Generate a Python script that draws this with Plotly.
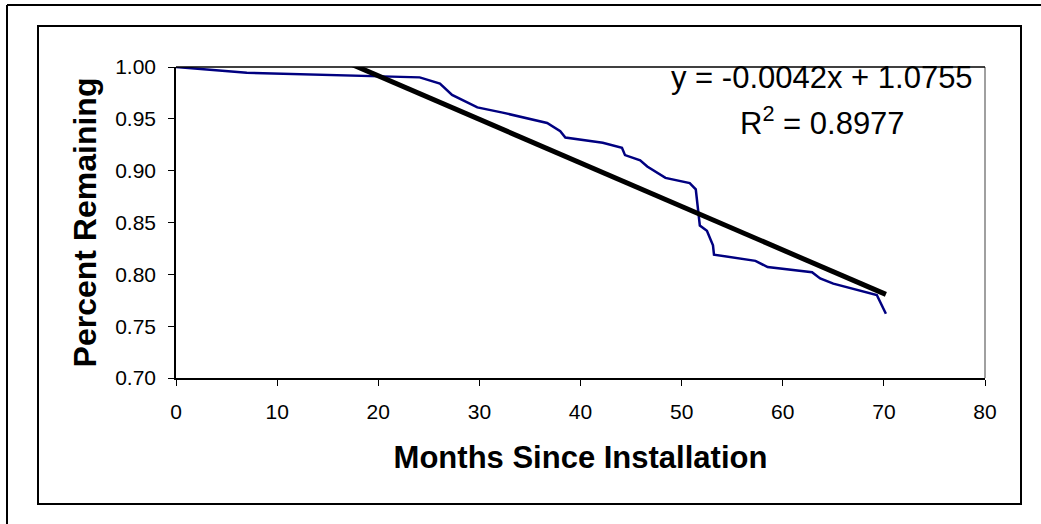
import plotly.graph_objects as go

# Data
months = [0, 7.0, 24.1, 26.1, 27.3, 28.1, 29.8, 32.3, 36.7, 38.0, 38.5, 42.2, 44.1, 44.4,
          45.9, 46.6, 48.4, 50.8, 51.4, 51.8, 52.5, 53.1, 53.2, 57.3, 58.5, 62.9, 63.7,
          65.0, 68.9, 69.3, 70.2]
remaining = [1.000, 0.9945, 0.990, 0.984, 0.973, 0.969, 0.961, 0.956, 0.946, 0.938, 0.932,
             0.927, 0.922, 0.915, 0.910, 0.904, 0.893, 0.888, 0.882, 0.847, 0.842, 0.828,
             0.819, 0.813, 0.807, 0.802, 0.796, 0.791, 0.781, 0.780, 0.762]

trend_slope = -0.0042
trend_intercept = 1.0755
r_squared = 0.8977

x_ticks = [0, 10, 20, 30, 40, 50, 60, 70, 80]
y_ticks = [0.70, 0.75, 0.80, 0.85, 0.90, 0.95, 1.00]

trend_x = [min(months), max(months)]
trend_y = [trend_slope * v + trend_intercept for v in trend_x]

FONT = "Arial, 'Liberation Sans', sans-serif"
W, H = 1041, 524
L, R, T, B = 176, 56, 67, 146
PW, PH = W - L - R, H - T - B


def px(xp):
    return (xp - L) / PW


def py(yp):
    return (H - B - yp) / PH


fig = go.Figure()
fig.add_trace(go.Scatter(x=months, y=remaining, mode="lines",
                         line=dict(color="#000080", width=2.5), showlegend=False))
fig.add_trace(go.Scatter(x=trend_x, y=trend_y, mode="lines",
                         line=dict(color="#000000", width=5), showlegend=False))

fig.update_layout(
    width=W, height=H,
    margin=dict(l=L, r=R, t=T, b=B),
    paper_bgcolor="white", plot_bgcolor="white",
    font=dict(family=FONT, color="black"),
    xaxis=dict(range=[0, 80], tickvals=x_ticks, ticktext=[str(v) for v in x_ticks],
               showgrid=False, zeroline=False, showline=True, linecolor="black", linewidth=1.5,
               ticks="outside", ticklen=6, tickcolor="black", tickfont=dict(size=21),
               ticklabelstandoff=8,
               title=dict(text="<b>Months Since Installation</b>", font=dict(size=31), standoff=24)),
    yaxis=dict(range=[0.70, 1.00], tickvals=y_ticks, ticktext=[f"{v:.2f}" for v in y_ticks],
               showgrid=False, zeroline=False, showline=True, linecolor="black", linewidth=1.5,
               ticks="outside", ticklen=6, tickcolor="black", tickfont=dict(size=21),
               ticklabelstandoff=8,
               title=dict(text="<b>Percent Remaining</b>", font=dict(size=32), standoff=9)),
)

shapes = [
    # plot-area border (gray right, black top)
    dict(type="line", xref="paper", yref="paper", x0=1, x1=1, y0=0, y1=1,
         line=dict(color="#808080", width=1.5)),
    dict(type="line", xref="paper", yref="paper", x0=0, x1=1, y0=1, y1=1,
         line=dict(color="#000000", width=1.5)),
    # chart-area border
    dict(type="rect", xref="paper", yref="paper", x0=px(38), x1=px(1021), y0=py(26), y1=py(504),
         line=dict(color="black", width=2)),
    # outer lines (left and top)
    dict(type="line", xref="paper", yref="paper", x0=px(7), x1=px(7), y0=py(5), y1=py(530),
         line=dict(color="black", width=2)),
    dict(type="line", xref="paper", yref="paper", x0=px(7), x1=px(1045), y0=py(5), y1=py(5),
         line=dict(color="black", width=2)),
]
fig.update_layout(shapes=shapes)

fig.add_annotation(x=63.9, y=0.9894, xref="x", yref="y", showarrow=False,
                   text=f"y = {trend_slope:.4f}x + {trend_intercept:.4f}",
                   font=dict(size=31, family=FONT), xanchor="center", yanchor="middle")
fig.add_annotation(x=63.9, y=0.948, xref="x", yref="y", showarrow=False,
                   text=f"R<sup>2</sup> = {r_squared:.4f}",
                   font=dict(size=31, family=FONT), xanchor="center", yanchor="middle")

fig.write_html("out.html", config={"displayModeBar": False},
               post_script="document.body.style.margin='0px';")
